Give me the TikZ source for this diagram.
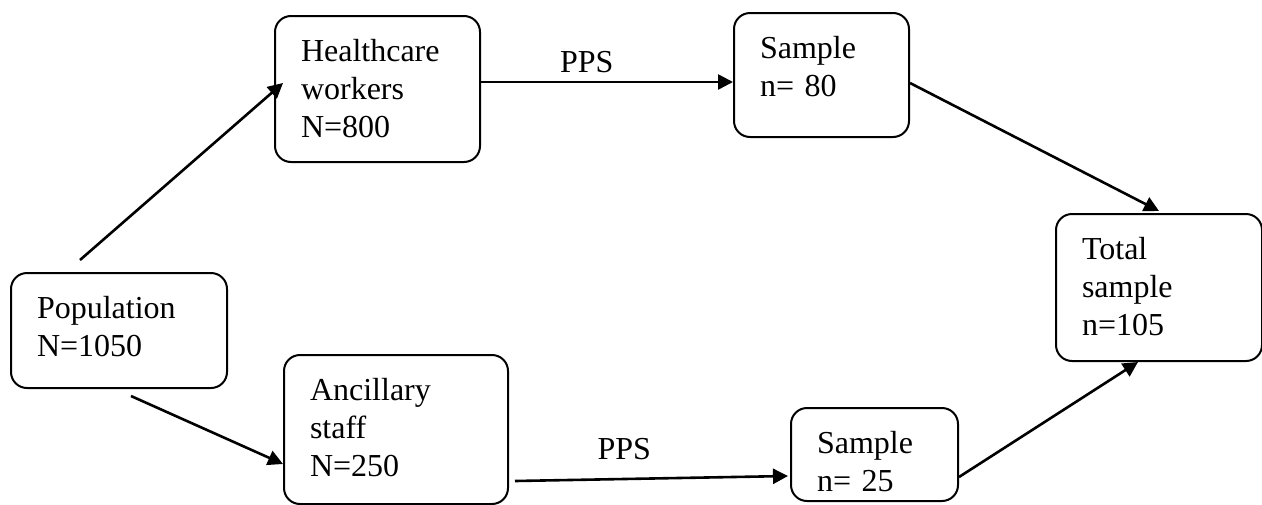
\documentclass[tikz,border=0pt]{standalone}
\usepackage{fontspec}
\setmainfont{Liberation Serif}
\usetikzlibrary{arrows.meta}

\begin{document}
\begin{tikzpicture}[x=0.5pt, y=-0.5pt,
    stage/.style={draw, line width=1pt, rounded corners=8pt, anchor=north west,
      align=left, font=\fontsize{16pt}{19pt}\selectfont,
      inner xsep=13pt, inner ysep=11.5pt, text height=11pt},
    flow/.style={line width=1.3pt, -{Triangle[length=7.5pt,width=7.5pt]}},
    pps/.style={font=\fontsize{16pt}{19pt}\selectfont, inner sep=4pt}]
  \useasboundingbox (0,0) rectangle (1262,504);

  % boxes
  \node[stage, text width=82pt,   text depth=23.5pt] (pop) at (10,272)  {Population\\N=1050};
  \node[stage, text width=76.5pt, text depth=39pt]   (hcw) at (274,15)  {Healthcare\\workers\\N=800};
  \node[stage, text width=86pt,   text depth=40.5pt] (anc) at (283,354) {Ancillary\\staff\\N=250};
  \node[stage, text width=61.5pt, text depth=28pt]   (s80) at (733,12)  {Sample\\n= 80};
  \node[stage, text width=57.5pt, text depth=12.5pt] (s25) at (790,407) {Sample\\n= 25};
  \node[stage, text width=77pt,   text depth=39.5pt] (tot) at (1055,213) {Total\\sample\\n=105};

  % arrows
  \draw[flow] ([xshift=35pt,yshift=6pt]pop.north west) -- ([xshift=4.5pt,yshift=3pt]hcw.west);
  \draw[flow] ([xshift=6pt,yshift=-3.5pt]pop.south)    -- ([yshift=20.5pt]anc.south west);
  \draw[flow] ([yshift=3.5pt]hcw.east) -- ([yshift=-3.5pt]s80.west)
    node[pps, pos=.42, above] {PPS};
  \draw[flow] ([xshift=3pt,yshift=12pt]anc.south east) -- ([xshift=-1pt,yshift=-10.75pt]s25.west)
    node[pps, pos=.4, above=5pt] {PPS};
  \draw[flow] ([yshift=-4pt]s80.east) -- ([yshift=1pt]tot.north);
  \draw[flow] ([yshift=12.5pt]s25.south east) -- ([xshift=-10.5pt]tot.south);
\end{tikzpicture}
\end{document}
